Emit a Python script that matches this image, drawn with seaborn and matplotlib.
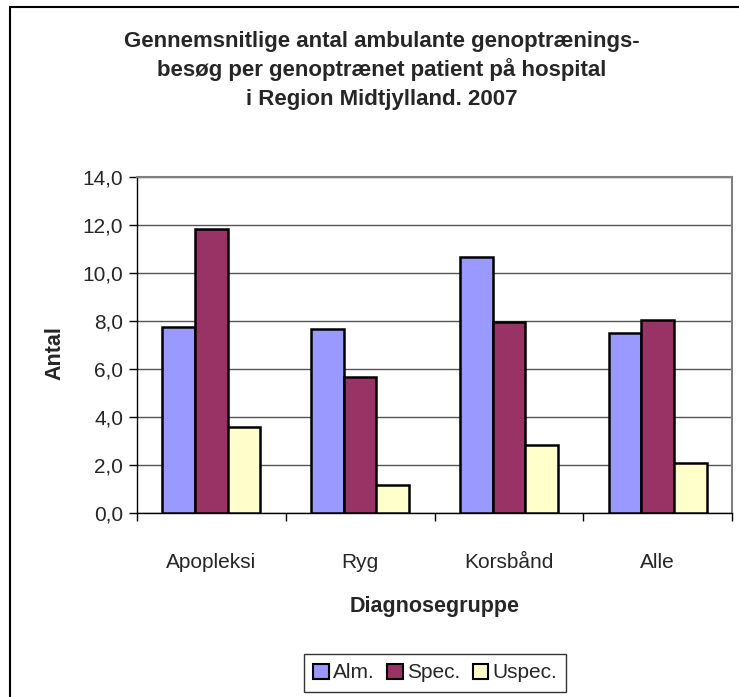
import numpy as np
import pandas as pd
import matplotlib
matplotlib.use("Agg")
import matplotlib.pyplot as plt
import seaborn as sns
from matplotlib.patches import Rectangle
from matplotlib.ticker import FuncFormatter, FixedLocator

# data
categories = ["Apopleksi", "Ryg", "Korsbånd", "Alle"]
series = ["Alm.", "Spec.", "Uspec."]
alm = [7.75, 7.65, 10.65, 7.5]
spec = [11.85, 5.65, 7.95, 8.05]
uspec = [3.6, 1.15, 2.85, 2.1]
colors = ["#9999FF", "#993366", "#FFFFCC"]

df = pd.DataFrame({
    "Diagnosegruppe": categories * 3,
    "Antal": alm + spec + uspec,
    "Type": [s for s in series for _ in categories],
})

sns.set_theme(style="white")
plt.rcParams["font.family"] = ["Liberation Sans", "DejaVu Sans"]

W, H = 739, 697
fig = plt.figure(figsize=(W / 100, H / 100), dpi=100)
ax = fig.add_axes([137 / W, 1 - 513 / H, (732 - 137) / W, (513 - 177) / H])

sns.barplot(data=df, x="Diagnosegruppe", y="Antal", hue="Type",
            order=categories, hue_order=series, palette=colors,
            width=0.66, edgecolor="black", linewidth=1.8, saturation=1,
            ax=ax, zorder=3)

# axes look (Excel style)
ax.set_xlim(-0.5, 3.5)
ax.set_ylim(0, 14)
ax.set_yticks(np.arange(0, 15, 2))
ax.yaxis.set_major_formatter(FuncFormatter(lambda v, p: f"{v:.1f}".replace(".", ",")))
ax.yaxis.grid(True, color="#555555", linewidth=1)
ax.set_axisbelow(True)
for side in ["top", "right"]:
    ax.spines[side].set_color("#808080")
    ax.spines[side].set_linewidth(1.5)
for side in ["left", "bottom"]:
    ax.spines[side].set_color("black")
    ax.spines[side].set_linewidth(1)

ax.tick_params(axis="y", left=True, length=6, width=1, color="black",
               labelsize=15, pad=4, direction="out")
ax.tick_params(axis="x", which="major", length=0, labelsize=15, pad=29)
ax.xaxis.set_minor_locator(FixedLocator([-0.5, 0.5, 1.5, 2.5, 3.5]))
ax.tick_params(axis="x", which="minor", bottom=True, length=6, width=1,
               color="black", direction="out")

ax.set_ylabel("Antal", fontsize=15.5, fontweight="bold")
ax.yaxis.set_label_coords(-0.12, 0.476)
ax.set_xlabel("Diagnosegruppe", fontsize=15.5, fontweight="bold", labelpad=17)

# title
title_lines = ["Gennemsnitlige antal ambulante genoptrænings-",
               "besøg per genoptrænet patient på hospital",
               "i Region Midtjylland. 2007"]
for line, y in zip(title_lines, [41, 70, 100]):
    fig.text(382 / W, 1 - y / H, line, ha="center", va="center",
             fontsize=16, fontweight="bold")

# legend
handles, labels = ax.get_legend_handles_labels()
ax.get_legend().remove()
leg = fig.legend(handles, labels, loc="center", bbox_to_anchor=(435 / W, 1 - 673 / H),
                 ncol=3, frameon=True, fancybox=False, edgecolor="black",
                 fontsize=15, handlelength=0.75, handleheight=0.75,
                 handletextpad=0.2, columnspacing=0.6, borderpad=0.45)
leg.get_frame().set_linewidth(1)
for h in leg.legend_handles:
    h.set_linewidth(1.5)

# outer chart frame
fig.patches.append(Rectangle((10 / W, -0.05), 1.0, (H - 7) / H + 0.05,
                             transform=fig.transFigure, fill=False,
                             edgecolor="black", linewidth=1.5))

fig.savefig("out.png", dpi=100)
